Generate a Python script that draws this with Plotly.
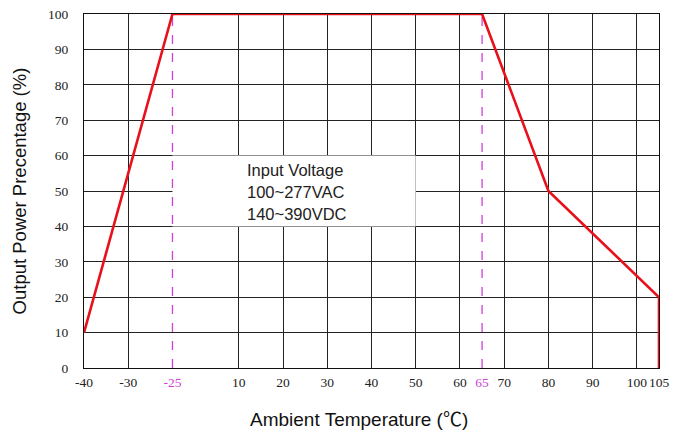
import numpy as np
import plotly.graph_objects as go

# ---- data ----
temp_c = [-40, -25, 65, 80, 105, 105]
power_pct = [10, 100, 100, 50, 20, 0]

x_tick_temps = [-40, -30, -25, 10, 20, 30, 40, 50, 60, 65, 70, 80, 90, 100, 105]
x_tick_slots = [0, 1, 2, 3.5, 4.5, 5.5, 6.5, 7.5, 8.5, 9, 9.5, 10.5, 11.5, 12.5, 13]
highlight_temps = [-25, 65]
grid_temps = [-30, 10, 20, 30, 40, 50, 60, 70, 80, 90, 100]
y_ticks = [0, 10, 20, 30, 40, 50, 60, 70, 80, 90, 100]
note_lines = ["Input Voltage", "100~277VAC", "140~390VDC"]
x_title = "Ambient Temperature (<span style='font-family:Noto Sans CJK SC'>℃</span>)"
y_title = "Output Power Precentage (%)"


def scale(t):
    # the chart's own non-uniform temperature axis
    return np.interp(t, x_tick_temps, x_tick_slots)


RED = "#e8101a"
MAG = "#d040d8"
SERIF = "Liberation Serif"
SANS = "Liberation Sans"

ticktext = []
for t in x_tick_temps:
    if t in highlight_temps:
        ticktext.append(f"<span style='color:{MAG}'>{t}</span>")
    else:
        ticktext.append(str(t))

fig = go.Figure()

# dashed highlight lines
for t in highlight_temps:
    fig.add_trace(go.Scatter(
        x=[scale(t), scale(t)], y=[0, 100], mode="lines",
        line=dict(color=MAG, width=1.3, dash="dash"),
        hoverinfo="skip", showlegend=False))

# derating curve
fig.add_trace(go.Scatter(
    x=scale(temp_c), y=power_pct, mode="lines",
    line=dict(color=RED, width=2.6), showlegend=False, cliponaxis=False))

# invisible trace on grid axis so it renders
fig.add_trace(go.Scatter(x=[scale(-40)], y=[0], xaxis="x2", mode="markers",
                         marker=dict(opacity=0), showlegend=False, hoverinfo="skip"))

x_range = [scale(x_tick_temps[0]), scale(x_tick_temps[-1])]

fig.update_layout(
    width=686, height=432,
    margin=dict(l=84, r=27, t=14, b=64, autoexpand=False),
    paper_bgcolor="white", plot_bgcolor="white",
    xaxis=dict(
        range=x_range, tickmode="array", automargin=False, tickangle=0,
        tickvals=[float(scale(t)) for t in x_tick_temps], ticktext=ticktext,
        showgrid=False, zeroline=False, ticks="outside", ticklen=2,
        tickcolor="rgba(0,0,0,0)",
        showline=True, linecolor="#111", linewidth=1.2, mirror=True,
        tickfont=dict(family=SERIF, size=13.5, color="#222"),
    ),
    xaxis2=dict(
        range=x_range, overlaying="x", tickmode="array", automargin=False,
        tickvals=[float(scale(t)) for t in grid_temps],
        showticklabels=False, showgrid=True, gridcolor="#222", gridwidth=1,
        zeroline=False, ticks="", side="bottom",
    ),
    yaxis=dict(
        range=[0, 100], tickmode="array", tickvals=y_ticks, automargin=False,
        showgrid=True, gridcolor="#222", gridwidth=1, zeroline=False,
        ticks="outside", ticklen=12, tickcolor="rgba(0,0,0,0)",
        showline=True, linecolor="#111", linewidth=1.2, mirror=True,
        tickfont=dict(family=SERIF, size=13.5, color="#222"),
        title=dict(text=y_title,
                   font=dict(family=SANS, size=18.5, color="#111"), standoff=16),
    ),
    shapes=[dict(
        type="rect", xref="x", yref="y",
        x0=float(scale(-25)), x1=float(scale(50)), y0=40, y1=60,
        fillcolor="white", line=dict(width=0), layer="between")],
)

fig.add_annotation(
    x=0.478, y=-0.141, xref="paper", yref="paper", text=x_title,
    showarrow=False, xanchor="center", yanchor="middle",
    font=dict(family=SANS, size=19, color="#111"))

for i, line in enumerate(note_lines):
    fig.add_annotation(
        x=float(scale(-25)) + 1.65, y=56 - i * 6.2, xref="x", yref="y",
        text=line, showarrow=False, xanchor="left", yanchor="middle",
        font=dict(family=SANS, size=16.5, color="#222"))

fig.write_html("out.html", post_script="document.body.style.margin='0';",
               config={"displayModeBar": False})
